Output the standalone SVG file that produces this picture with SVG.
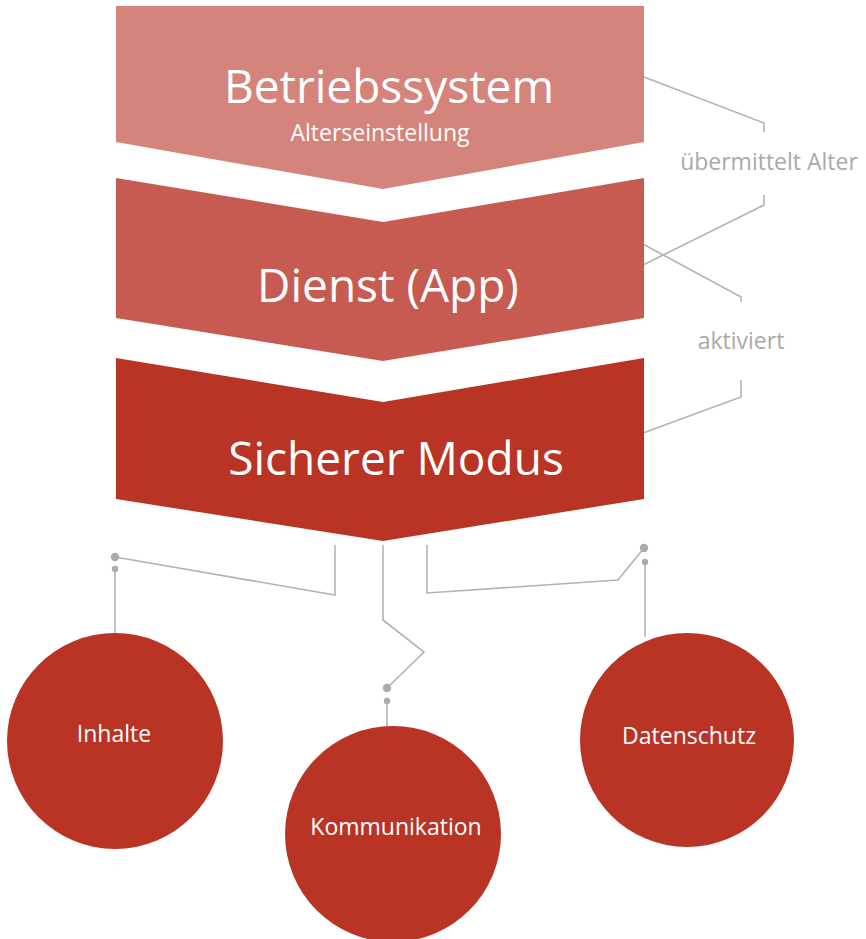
<svg xmlns="http://www.w3.org/2000/svg" width="866" height="939" viewBox="0 0 866 939">
<style>
.big{font-family:"Open Sans","Liberation Sans",sans-serif;font-size:46px;fill:#fff;text-anchor:middle}
.sm{font-family:"Open Sans","Liberation Sans",sans-serif;font-size:23px;fill:#fff;text-anchor:middle}
.lbl{font-family:"Open Sans","Liberation Sans",sans-serif;font-size:23px;fill:#A9A9AC;text-anchor:middle}
.ln{fill:none;stroke:#B3B3B3;stroke-width:1.6}
.dot{fill:#ABABAE}
.c{fill:#BA3426}
</style>
<rect width="866" height="939" fill="#fff"/>
<g id="connectors">
<polyline class="ln" points="644,77 764,123 764,132"/>
<polyline class="ln" points="764,195 764,205 643,265"/>
<polyline class="ln" points="641,243 741,297 741,302"/>
<polyline class="ln" points="741,380 741,397 643,433"/>
<text class="lbl" x="769" y="170">übermittelt Alter</text>
<text class="lbl" x="741" y="349">aktiviert</text>
<polyline class="ln" points="115,557 335,595 335,545"/>
<line class="ln" x1="115" y1="569" x2="115" y2="634"/>
<circle class="dot" cx="115" cy="557" r="4.2"/>
<circle class="dot" cx="115" cy="569" r="3.2"/>
<polyline class="ln" points="383,545 383,620 424,652 387,688"/>
<line class="ln" x1="387" y1="701" x2="387" y2="728"/>
<circle class="dot" cx="387" cy="688" r="4.2"/>
<circle class="dot" cx="387" cy="701" r="3.2"/>
<polyline class="ln" points="427,545 427,593 618,580 644,548"/>
<line class="ln" x1="645" y1="562" x2="645" y2="637"/>
<circle class="dot" cx="644" cy="548" r="4.2"/>
<circle class="dot" cx="645" cy="562" r="3.2"/>
</g>
<g id="betriebssystem">
<polygon points="116,6 644,6 644,142 383,189 116,142" fill="#D5847B"/>
<text class="big" x="389" y="103">Betriebssystem</text>
<text class="sm" x="380" y="141">Alterseinstellung</text>
</g>
<g id="dienst">
<polygon points="116,178 383,222 644,178 644,318 383,361 116,318" fill="#C75B51"/>
<text class="big" x="388" y="302">Dienst (App)</text>
</g>
<g id="sicherer-modus">
<polygon points="116,358 383,402 644,358 644,499 383,541 116,499" fill="#BA3426"/>
<text class="big" x="396" y="475">Sicherer Modus</text>
</g>
<g id="inhalte">
<circle class="c" cx="115" cy="741" r="108"/>
<text class="sm" x="114" y="742">Inhalte</text>
</g>
<g id="kommunikation">
<circle class="c" cx="393" cy="834" r="108"/>
<text class="sm" x="396" y="835">Kommunikation</text>
</g>
<g id="datenschutz">
<circle class="c" cx="687" cy="740" r="107"/>
<text class="sm" x="689" y="744">Datenschutz</text>
</g>
</svg>
